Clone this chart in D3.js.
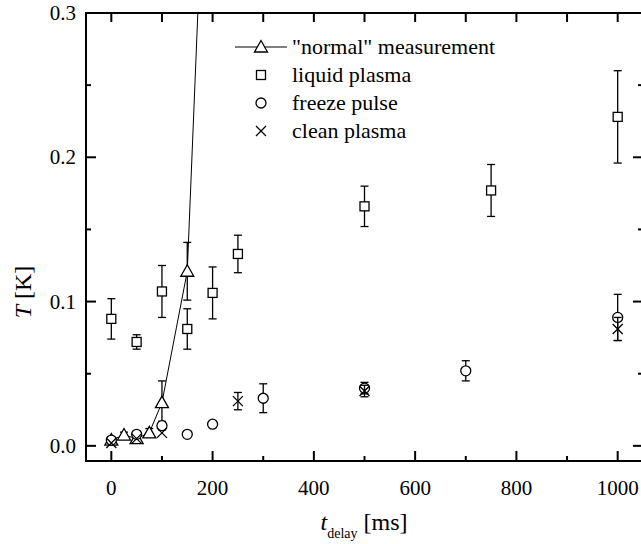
<!DOCTYPE html>
<html>
<head>
<meta charset="utf-8">
<script src="https://cdn.jsdelivr.net/npm/d3@7"></script>
<style>
  body { margin: 0; background: #fff; }
  svg { display: block; }
  svg text { font-family: "Liberation Serif", "Times New Roman", Times, "DejaVu Serif", serif; }
</style>
</head>
<body>
<div id="chart"></div>
<script>
// t_delay in ms, T in K, err = error bar half-length (0 = none)
const normalX = [0, 25, 50, 75, 100, 150, 200];
const normalY = [0.004, 0.0075, 0.005, 0.009, 0.030, 0.121, 0.55];
const normalErr = [0, 0.002, 0.002, 0.003, 0.015, 0.020, 0];

const liquidX = [0, 50, 100, 150, 200, 250, 500, 750, 1000];
const liquidY = [0.088, 0.072, 0.107, 0.081, 0.106, 0.133, 0.166, 0.177, 0.228];
const liquidErr = [0.014, 0.005, 0.018, 0.014, 0.018, 0.013, 0.014, 0.018, 0.032];

const freezeX = [0, 50, 100, 150, 200, 300, 500, 700, 1000];
const freezeY = [0.004, 0.008, 0.014, 0.008, 0.015, 0.033, 0.040, 0.052, 0.089];
const freezeErr = [0, 0, 0.003, 0, 0, 0.010, 0.004, 0.007, 0.016];

const cleanX = [0, 50, 100, 250, 500, 1000];
const cleanY = [0.002, 0.005, 0.009, 0.031, 0.038, 0.081];
const cleanErr = [0, 0, 0, 0.006, 0.004, 0.008];

const xMajor = [0, 200, 400, 600, 800, 1000];
const xMinor = [100, 300, 500, 700, 900];
const yMajor = [0.0, 0.1, 0.2, 0.3];
const yMinor = [0.05, 0.15, 0.25];

const legendLabels = ['"normal" measurement', "liquid plasma", "freeze pulse", "clean plasma"];

const width = 641, height = 544;
const margin = {left: 86, right: -2, top: 13, bottom: 83};
const serif = '"Liberation Serif", "Times New Roman", Times, "DejaVu Serif", serif';

const x = d3.scaleLinear().domain([-50, 1050]).range([margin.left, width - margin.right]);
const y = d3.scaleLinear().domain([-0.0105, 0.3]).range([height - margin.bottom, margin.top]);

const svg = d3.select("#chart").append("svg")
  .attr("width", width).attr("height", height)
  .attr("font-family", serif);

svg.append("defs").append("clipPath").attr("id", "clip")
  .append("rect")
  .attr("x", x.range()[0]).attr("y", y.range()[1])
  .attr("width", x.range()[1] - x.range()[0])
  .attr("height", y.range()[0] - y.range()[1]);

const zip = (xs, ys, es) => xs.map((v, i) => ({x: v, y: ys[i], e: es[i]}));

// marker shapes
function drawMarker(g, type, cx, cy) {
  const s = g.append("g").attr("transform", `translate(${cx},${cy})`);
  let el;
  if (type === "tri") {
    el = s.append("path").attr("d", "M0,-6.5L6.5,5L-6.5,5Z").attr("fill", "#fff");
  } else if (type === "sq") {
    el = s.append("rect").attr("x", -4.5).attr("y", -4.5).attr("width", 9).attr("height", 9).attr("fill", "#fff");
  } else if (type === "circ") {
    el = s.append("circle").attr("r", 5).attr("fill", "#fff");
  } else {
    el = s.append("path").attr("d", "M-5,-5L5,5M-5,5L5,-5").attr("fill", "none");
  }
  el.attr("stroke", "#000").attr("stroke-width", 1.3);
}

const plot = svg.append("g").attr("clip-path", "url(#clip)");

function series(data, type, withLine) {
  const g = plot.append("g");
  if (withLine) {
    g.append("path")
      .datum(data)
      .attr("fill", "none").attr("stroke", "#000").attr("stroke-width", 1)
      .attr("d", d3.line().x(d => x(d.x)).y(d => y(d.y)));
  }
  const eb = g.append("g").attr("stroke", "#000").attr("stroke-width", 1.3);
  data.filter(d => d.e > 0).forEach(d => {
    const cx = x(d.x), y0 = y(d.y - d.e), y1 = y(d.y + d.e);
    eb.append("line").attr("x1", cx).attr("x2", cx).attr("y1", y0).attr("y2", y1);
    eb.append("line").attr("x1", cx - 4).attr("x2", cx + 4).attr("y1", y0).attr("y2", y0);
    eb.append("line").attr("x1", cx - 4).attr("x2", cx + 4).attr("y1", y1).attr("y2", y1);
  });
  data.forEach(d => drawMarker(g, type, x(d.x), y(d.y)));
}

series(zip(normalX, normalY, normalErr), "tri", true);
series(zip(liquidX, liquidY, liquidErr), "sq", false);
series(zip(freezeX, freezeY, freezeErr), "circ", false);
series(zip(cleanX, cleanY, cleanErr), "x", false);

// frame
const [x0, x1] = x.range(), [yb, yt] = y.range();
const ax = svg.append("g").attr("stroke", "#000").attr("stroke-width", 2).attr("fill", "none");
ax.append("rect").attr("x", x0).attr("y", yt).attr("width", x1 - x0).attr("height", yb - yt);

// ticks (inward)
xMajor.forEach(v => {
  ax.append("line").attr("x1", x(v)).attr("x2", x(v)).attr("y1", yb).attr("y2", yb - 10);
  ax.append("line").attr("x1", x(v)).attr("x2", x(v)).attr("y1", yt).attr("y2", yt + 9);
});
xMinor.forEach(v => {
  ax.append("line").attr("x1", x(v)).attr("x2", x(v)).attr("y1", yb).attr("y2", yb - 5);
  ax.append("line").attr("x1", x(v)).attr("x2", x(v)).attr("y1", yt).attr("y2", yt + 9);
});
yMajor.forEach(v => {
  ax.append("line").attr("x1", x0).attr("x2", x0 + 10).attr("y1", y(v)).attr("y2", y(v));
  ax.append("line").attr("x1", x1).attr("x2", x1 - 10).attr("y1", y(v)).attr("y2", y(v));
});
yMinor.forEach(v => {
  ax.append("line").attr("x1", x0).attr("x2", x0 + 5).attr("y1", y(v)).attr("y2", y(v));
  ax.append("line").attr("x1", x1).attr("x2", x1 - 5).attr("y1", y(v)).attr("y2", y(v));
});

// tick labels
const fmtY = d3.format(".1f");
svg.append("g").selectAll("text").data(xMajor).join("text")
  .attr("x", d => x(d)).attr("y", 495)
  .attr("text-anchor", "middle").attr("font-size", 21)
  .text(d => d);
svg.append("g").selectAll("text").data(yMajor).join("text")
  .attr("x", x0 - 10).attr("y", d => y(d) + 7)
  .attr("text-anchor", "end").attr("font-size", 21)
  .text(d => fmtY(d));

// axis titles
const yl = svg.append("text")
  .attr("transform", "translate(31,292) rotate(-90)")
  .attr("text-anchor", "middle").attr("font-size", 24);
yl.append("tspan").attr("font-style", "italic").text("T");
yl.append("tspan").text(" [K]");

const xl = svg.append("text")
  .attr("x", 364).attr("y", 530)
  .attr("text-anchor", "middle").attr("font-size", 24);
xl.append("tspan").attr("font-style", "italic").text("t");
xl.append("tspan").attr("font-size", 14).attr("dy", 8).text("delay");
xl.append("tspan").attr("dy", -8).text(" [ms]");

// legend
const leg = svg.append("g");
const types = ["tri", "sq", "circ", "x"];
legendLabels.forEach((lab, i) => {
  const cy = 47 + i * 28;
  if (i === 0) {
    leg.append("line").attr("x1", 235).attr("x2", 287).attr("y1", cy).attr("y2", cy)
      .attr("stroke", "#000").attr("stroke-width", 1);
  }
  drawMarker(leg, types[i], 261, cy);
  leg.append("text").attr("x", 292).attr("y", cy + 7).attr("font-size", 22).text(lab);
});
</script>
</body>
</html>
